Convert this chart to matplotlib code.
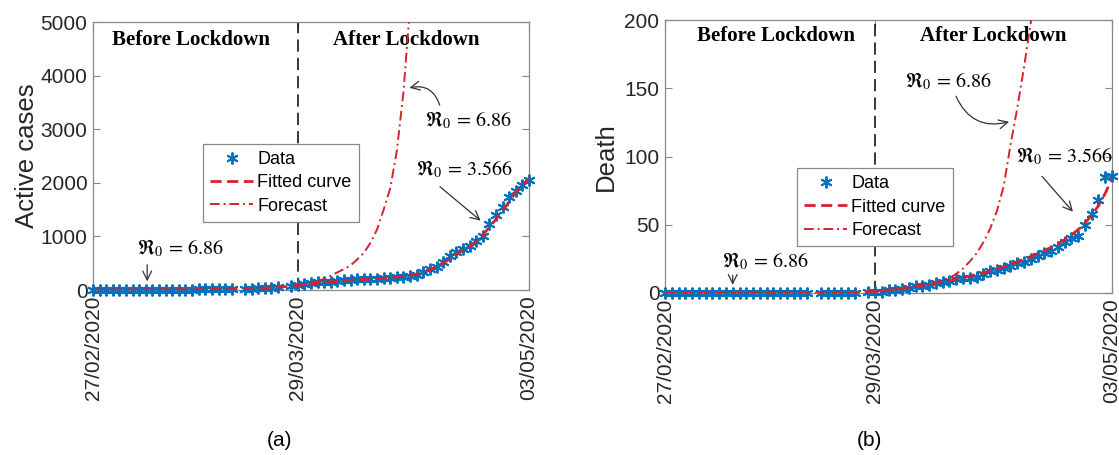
import matplotlib.pyplot as plt

plt.rcParams['font.family'] = ['Liberation Sans', 'DejaVu Sans']
plt.rcParams['mathtext.fontset'] = 'stix'

# x axis: days since 27/02/2020
tick_days = [0, 31, 66]
tick_labels = ['27/02/2020', '29/03/2020', '03/05/2020']
lockdown_day = 31

# days with reported data (two days missing)
data_days = list(range(0, 22)) + list(range(23, 29)) + list(range(30, 67))
fit_days = list(range(0, 67))

active_data = [1, 1, 2, 2, 2, 3, 3, 4, 4, 5, 5, 6, 6, 7, 8, 9, 10, 11, 12, 14, 16, 18,
               22, 26, 30, 35, 42, 50,
               75, 95, 112, 125, 140, 148, 158, 168, 178, 188,
               200, 205, 210, 212, 218, 225, 235, 240, 258, 272,
               330, 385, 430, 515, 640, 700, 770, 830, 920, 1010,
               1240, 1390, 1540, 1730, 1850, 1960, 2060]
active_fit = [0, 1, 1, 1, 2, 2, 2, 3, 3, 4,
              4, 5, 5, 6, 7, 8, 9, 10, 11, 13,
              15, 17, 20, 23, 27, 32, 38, 45, 53, 62,
              72, 85, 100, 115, 128, 140, 150, 160, 170, 180,
              190, 198, 206, 214, 222, 232, 243, 256, 272, 295,
              330, 375, 430, 500, 580, 660, 740, 820, 900, 1030,
              1170, 1320, 1480, 1650, 1820, 1960, 2080]
active_fc_days = list(range(31, 49))
active_forecast = [90, 105, 125, 165, 210, 265, 330, 390, 460, 570, 690, 880,
                   1130, 1500, 1900, 2600, 3700, 5300]

death_data = [0] * 22 + [0, 0, 0, 0, 0, 0] + [
    1, 1, 1, 2, 2, 3, 4, 5, 5, 6,
    7, 8, 9, 10, 11, 11, 12, 14, 16, 17,
    18, 20, 22, 23, 25, 27, 29, 31, 34, 37,
    40, 42, 50, 58, 68, 85, 86]
death_fit = [0, 0, 0, 0, 0, 0, 0, 0, 0, 0,
             0, 0, 0, 0, 0, 0, 0, 0, 0, 0,
             0, 0, 0, 0, 0, 0, 0.2, 0.3, 0.5, 0.7,
             0.9, 1.2, 1.6, 2.1, 2.7, 3.4, 4.1, 4.8, 5.6, 6.5,
             7.4, 8.3, 9.2, 10.2, 11.2, 12.3, 13.5, 14.8, 16.2, 17.7,
             19.3, 21, 22.8, 24.7, 26.7, 28.8, 31, 33.4, 36, 39,
             42.5, 46.5, 51, 57, 64, 73, 84]
death_fc_days = list(range(31, 56))
death_forecast = [1, 1.5, 2, 2.6, 3.3, 4, 4.8, 5.6, 6.5, 7.8, 9.3, 11, 14, 18,
                  23, 29, 37, 47, 60, 78, 108, 135, 165, 198, 240]

blue = '#0072BD'
red = '#D7212B'
star = (6, 2, 0)


def panel(ax, data, fit, fc_days, fc, ymax, yticks, ylabel, label_x):
    ax.plot(data_days, data, linestyle='none', marker=star, ms=8.5, mew=1.4,
            color=blue, clip_on=False, zorder=3, label='Data')
    ax.plot(fit_days, fit, linestyle=(0, (4, 2)), lw=2, color=red,
            zorder=4, label='Fitted curve')
    ax.plot(fc_days, fc, linestyle=(0, (5, 2, 1, 2)), lw=1.4, color=red,
            zorder=4, label='Forecast')
    ax.axvline(lockdown_day, color='black', lw=1.1, linestyle=(0, (8, 4)), zorder=2)
    ax.set_xlim(0, 66)
    ax.set_ylim(0, ymax)
    ax.set_yticks(yticks)
    ax.set_xticks(tick_days)
    ax.set_xticklabels(tick_labels, rotation=90)
    ax.tick_params(direction='in', length=5, labelsize=15, colors='#888888',
                   labelcolor='#262626', right=True, top=True, pad=4)
    for s in ax.spines.values():
        s.set_color('#888888')
        s.set_linewidth(0.9)
    ax.set_ylabel(ylabel, fontsize=18.5, color='#262626')
    ax.yaxis.set_label_coords(label_x, 0.5)


def r0(ax, txt, pos, tail, head, rad):
    ax.text(pos[0], pos[1], r'$\Re_0\,=\,%s$' % txt, fontsize=14.5,
            ha='center', va='center', zorder=6)
    ax.annotate('', xy=head, xytext=tail,
                arrowprops=dict(arrowstyle='->', color='#333333', lw=0.9,
                                connectionstyle='arc3,rad=%g' % rad,
                                mutation_scale=16), zorder=6)


fig = plt.figure(figsize=(11.19, 4.55), dpi=100)
axa = fig.add_axes([93 / 1119, 1 - 290 / 455, 436 / 1119, 268 / 455])
axb = fig.add_axes([665 / 1119, 1 - 293 / 455, 447 / 1119, 273 / 455])

panel(axa, active_data, active_fit, active_fc_days, active_forecast,
      5000, [0, 1000, 2000, 3000, 4000, 5000], 'Active cases', -0.125)
panel(axb, death_data, death_fit, death_fc_days, death_forecast,
      200, [0, 50, 100, 150, 200], 'Death', -0.105)

head_font = dict(fontsize=15, fontweight='bold', family='Liberation Serif',
                 ha='center', va='center')
axa.text(14.8, 4660, 'Before Lockdown', **head_font)
axa.text(47.4, 4660, 'After Lockdown', **head_font)
axb.text(16.4, 188, 'Before Lockdown', **head_font)
axb.text(48.4, 188, 'After Lockdown', **head_font)

r0(axa, '6.86', (56.9, 3170), (52.6, 3400), (47.5, 3760), 0.5)
r0(axa, '3.566', (56.2, 2260), (52.2, 1960), (59.0, 1260), 0)
r0(axa, '6.86', (13.2, 780), (8.2, 520), (8.2, 110), 0)
r0(axb, '6.86', (41.8, 155), (42.8, 146), (51.2, 126), 0.45)
r0(axb, '3.566', (59.0, 100), (55.4, 87), (60.5, 58), 0)
r0(axb, '6.86', (14.8, 23.5), (10.0, 15), (10.0, 4), 0)

for ax, anchor in ((axa, (0.252, 0.545)), (axb, (0.295, 0.458))):
    leg = ax.legend(loc='upper left', bbox_to_anchor=anchor, fontsize=13,
                    fancybox=False, framealpha=1, edgecolor='#888888',
                    handlelength=2.4, handletextpad=0.2, borderpad=0.4,
                    labelspacing=0.35, borderaxespad=0)
    leg.get_frame().set_linewidth(0.9)
    leg.set_zorder(7)

fig.text(279 / 1119, 1 - 440 / 455, '(a)', fontsize=15, ha='center', va='center')
fig.text(869 / 1119, 1 - 440 / 455, '(b)', fontsize=15, ha='center', va='center')

fig.savefig('out.png', dpi=100)
